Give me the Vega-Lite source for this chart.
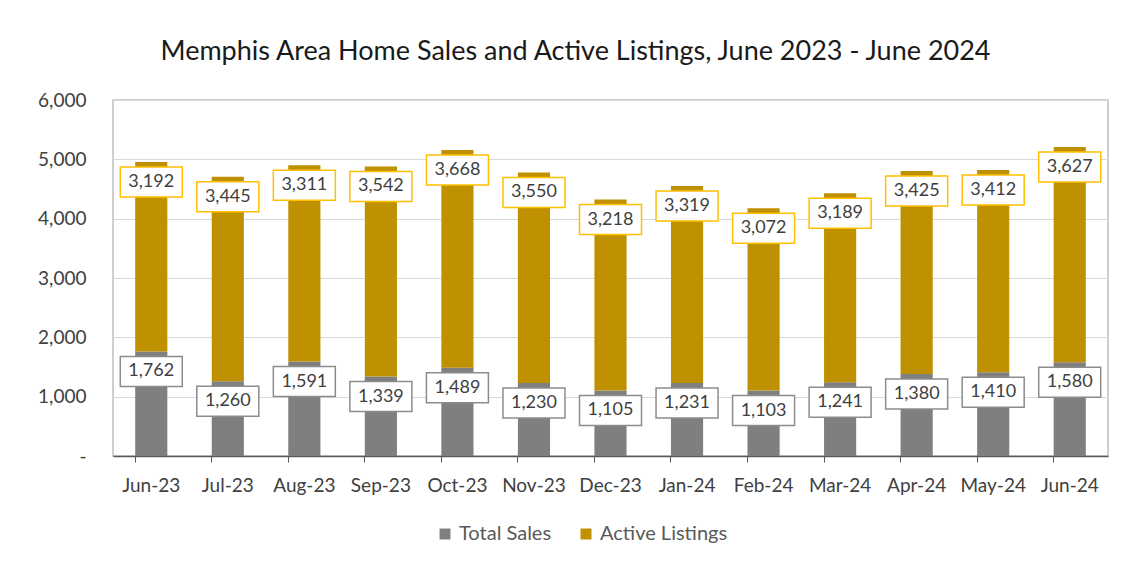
{
  "$schema": "https://vega.github.io/schema/vega-lite/v6.json",
  "width": 995,
  "height": 356,
  "autosize": {"type": "none"},
  "padding": {"left": 113, "top": 100, "right": 27, "bottom": 118},
  "background": "white",
  "title": {
    "text": "Memphis Area Home Sales and Active Listings, June 2023 - June 2024",
    "font": "Lato",
    "fontSize": 27,
    "fontWeight": "normal",
    "color": "#1a1a1a",
    "anchor": "middle",
    "dx": -35,
    "offset": 25
  },
  "data": {
    "values": [
      {"month": "Jun-23", "series": "Total Sales", "value": 1762},
      {"month": "Jul-23", "series": "Total Sales", "value": 1260},
      {"month": "Aug-23", "series": "Total Sales", "value": 1591},
      {"month": "Sep-23", "series": "Total Sales", "value": 1339},
      {"month": "Oct-23", "series": "Total Sales", "value": 1489},
      {"month": "Nov-23", "series": "Total Sales", "value": 1230},
      {"month": "Dec-23", "series": "Total Sales", "value": 1105},
      {"month": "Jan-24", "series": "Total Sales", "value": 1231},
      {"month": "Feb-24", "series": "Total Sales", "value": 1103},
      {"month": "Mar-24", "series": "Total Sales", "value": 1241},
      {"month": "Apr-24", "series": "Total Sales", "value": 1380},
      {"month": "May-24", "series": "Total Sales", "value": 1410},
      {"month": "Jun-24", "series": "Total Sales", "value": 1580},
      {"month": "Jun-23", "series": "Active Listings", "value": 3192},
      {"month": "Jul-23", "series": "Active Listings", "value": 3445},
      {"month": "Aug-23", "series": "Active Listings", "value": 3311},
      {"month": "Sep-23", "series": "Active Listings", "value": 3542},
      {"month": "Oct-23", "series": "Active Listings", "value": 3668},
      {"month": "Nov-23", "series": "Active Listings", "value": 3550},
      {"month": "Dec-23", "series": "Active Listings", "value": 3218},
      {"month": "Jan-24", "series": "Active Listings", "value": 3319},
      {"month": "Feb-24", "series": "Active Listings", "value": 3072},
      {"month": "Mar-24", "series": "Active Listings", "value": 3189},
      {"month": "Apr-24", "series": "Active Listings", "value": 3425},
      {"month": "May-24", "series": "Active Listings", "value": 3412},
      {"month": "Jun-24", "series": "Active Listings", "value": 3627}
    ]
  },
  "transform": [
    {"stack": "value", "groupby": ["month"], "sort": [{"field": "series", "order": "descending"}], "as": ["y0", "y1"]}
  ],
  "encoding": {
    "x": {
      "field": "month",
      "type": "nominal",
      "sort": null,
      "title": null,
      "scale": {"paddingInner": 0.58, "paddingOuter": 0.29},
      "axis": {
        "labelAngle": 0,
        "labelFont": "Lato",
        "labelFontSize": 19,
        "labelColor": "#404040",
        "labelPadding": 14,
        "bandPosition": 0,
        "tickSize": 6,
        "tickColor": "#595959",
        "domainColor": "#595959",
        "domainWidth": 1.5,
        "grid": false
      }
    }
  },
  "layer": [
    {
      "mark": {"type": "bar"},
      "encoding": {
        "y": {
          "field": "y0",
          "type": "quantitative",
          "scale": {"domain": [0, 6000]},
          "title": null,
          "axis": {
            "values": [0, 1000, 2000, 3000, 4000, 5000, 6000],
            "labelExpr": "datum.value == 0 ? '-' : format(datum.value, ',')",
            "labelFont": "Lato",
            "labelFontSize": 19,
            "labelColor": "#404040",
            "labelPadding": 27,
            "ticks": false,
            "domain": false,
            "grid": true,
            "gridColor": "#d9d9d9",
            "gridWidth": 1.2
          }
        },
        "y2": {"field": "y1"},
        "color": {
          "field": "series",
          "type": "nominal",
          "scale": {"domain": ["Total Sales", "Active Listings"], "range": ["#7f7f7f", "#bf9000"]},
          "legend": {
            "title": null,
            "orient": "none",
            "direction": "horizontal",
            "legendX": 322,
            "legendY": 424,
            "symbolType": "square",
            "symbolSize": 120,
            "symbolStrokeWidth": 0,
            "labelFont": "Lato",
            "labelFontSize": 20,
            "labelColor": "#595959",
            "columnPadding": 24,
            "labelOffset": 4
          }
        }
      }
    },
    {
      "mark": {
        "type": "point",
        "shape": "M-1,-0.484L1,-0.484L1,0.484L-1,0.484Z",
        "size": 3844,
        "filled": false,
        "fill": "white",
        "fillOpacity": 1,
        "opacity": 1,
        "strokeWidth": 1.5,
        "yOffset": 20
      },
      "encoding": {
        "y": {"field": "y1", "type": "quantitative"},
        "stroke": {
          "field": "series",
          "type": "nominal",
          "scale": {"domain": ["Total Sales", "Active Listings"], "range": ["#8c8c8c", "#ffc000"]},
          "legend": null
        }
      }
    },
    {
      "mark": {
        "type": "text",
        "font": "Lato",
        "fontSize": 18,
        "color": "#404040",
        "baseline": "middle",
        "yOffset": 20
      },
      "encoding": {
        "y": {"field": "y1", "type": "quantitative"},
        "text": {"field": "value", "type": "quantitative", "format": ","}
      }
    }
  ],
  "config": {
    "view": {"stroke": "#bfbfbf", "strokeWidth": 1.5}
  }
}
